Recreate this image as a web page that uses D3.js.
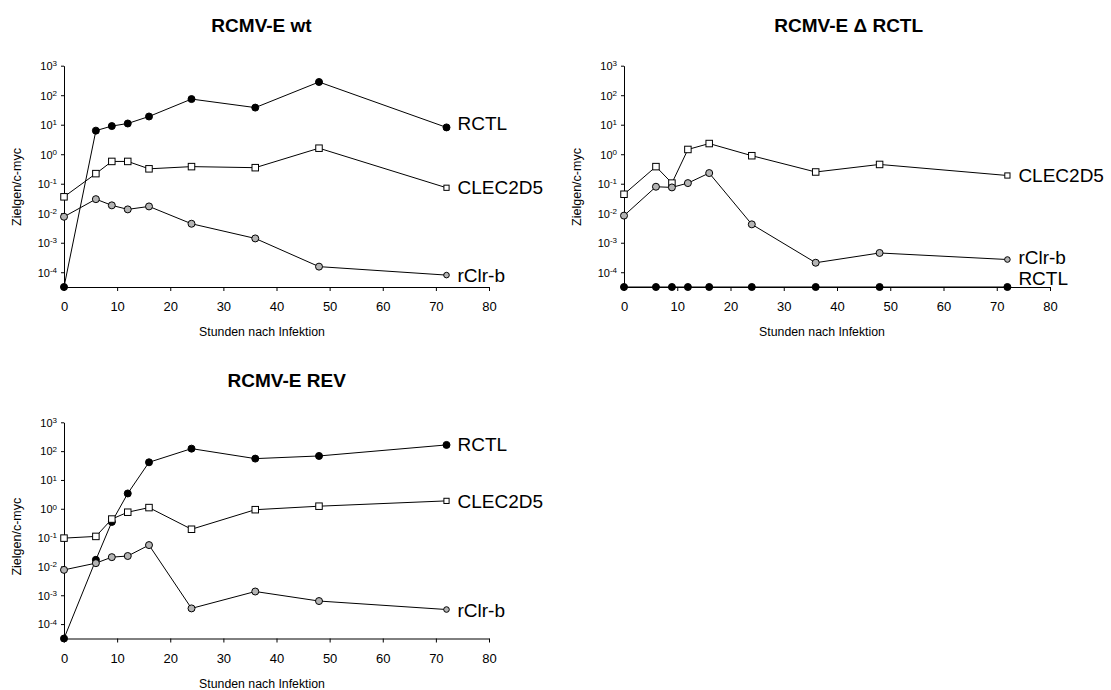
<!DOCTYPE html>
<html>
<head>
<meta charset="utf-8">
<script src="https://cdn.jsdelivr.net/npm/d3@7"></script>
<style>
  html, body { margin: 0; padding: 0; background: #fff; }
  svg { display: block; }
  text { font-family: "Liberation Sans", Arial, sans-serif; fill: #000; }
</style>
</head>
<body>
<svg id="chart" width="1111" height="690"></svg>
<script>
// ---- data ----
const hours = [0, 6, 9, 12, 16, 24, 36, 48, 72];
const seriesNames = ["RCTL", "CLEC2D5", "rClr-b"];
const panelTitles = ["RCMV-E wt", "RCMV-E \u0394 RCTL", "RCMV-E REV"];
const xTickValues = [0, 10, 20, 30, 40, 50, 60, 70, 80];
const yTickExponents = [-4, -3, -2, -1, 0, 1, 2, 3];
const xAxisTitle = "Stunden nach Infektion";
const yAxisTitle = "Zielgen/c-myc";

// 0 = not detected (drawn on the x axis)
const wtRCTL  = [0, 6.3, 9, 11, 19, 74, 38, 280, 8.1];
const wtCLEC  = [0.036, 0.22, 0.57, 0.57, 0.32, 0.38, 0.35, 1.6, 0.073];
const wtClrb  = [0.0076, 0.030, 0.0185, 0.0135, 0.017, 0.0044, 0.0014, 0.000155, 0.00008];

const dRCTL   = [0, 0, 0, 0, 0, 0, 0, 0, 0];
const dCLEC   = [0.044, 0.38, 0.105, 1.45, 2.3, 0.89, 0.25, 0.45, 0.19];
const dClrb   = [0.0083, 0.079, 0.075, 0.105, 0.23, 0.0042, 0.00021, 0.00045, 0.00027];

const revRCTL = [0, 0.017, 0.35, 3.4, 41, 122, 55, 68, 164];
const revCLEC = [0.096, 0.11, 0.44, 0.76, 1.1, 0.195, 0.93, 1.23, 1.88];
const revClrb = [0.0076, 0.013, 0.021, 0.023, 0.055, 0.00035, 0.00135, 0.00063, 0.00032];

const panelData = [
  [wtRCTL, wtCLEC, wtClrb],
  [dRCTL, dCLEC, dClrb],
  [revRCTL, revCLEC, revClrb]
];

// ---- layout (positions/styles) ----
const yMin = Math.pow(10, -4.5), yMax = 1000;
const layouts = [
  { x0: 64,  x1: 489,  yb: 287,   yt: 65.7,  tx: 261.5, ty: 31.7, ayx: 21,  ayy: 187,   axx: 262, labelDy: [-4, 0, 0] },
  { x0: 624, x1: 1050, yb: 287,   yt: 65.7,  tx: 848.7, ty: 31.7, ayx: 581, ayy: 187,   axx: 822, labelDy: [-9, 0, -2] },
  { x0: 64,  x1: 489,  yb: 638.5, yt: 422.3, tx: 286.7, ty: 387,  ayx: 21,  ayy: 536.7, axx: 262, labelDy: [-1, 0, 1] }
];
const markerStyles = [
  { shape: "circle", fill: "#000" },
  { shape: "square", fill: "#fff" },
  { shape: "circle", fill: "#b4b4b4" }
];

const svg = d3.select("#chart");

layouts.forEach((L, pi) => {
  const g = svg.append("g");
  const x = d3.scaleLinear().domain([0, 80]).range([L.x0, L.x1]);
  const y = d3.scaleLog().domain([yMin, yMax]).range([L.yb, L.yt]);
  const yv = v => y(v > 0 ? v : yMin);

  // title
  g.append("text")
    .attr("x", L.tx).attr("y", L.ty)
    .attr("text-anchor", "middle")
    .style("font-size", "19px").style("font-weight", "bold")
    .text(panelTitles[pi]);

  // x axis
  const xa = g.append("g")
    .attr("transform", `translate(0,${L.yb})`)
    .call(d3.axisBottom(x).tickValues(xTickValues).tickSize(4).tickSizeOuter(0).tickPadding(11).tickFormat(d3.format("d")));
  xa.selectAll("text").style("font-size", "13px").style("font-family", "'Liberation Sans', Arial, sans-serif");
  xa.selectAll("path, line").attr("stroke", "#000").attr("stroke-width", 1);

  // y axis
  const ya = g.append("g")
    .attr("transform", `translate(${L.x0},0)`)
    .call(d3.axisLeft(y).tickValues(yTickExponents.map(e => Math.pow(10, e))).tickSize(3).tickSizeOuter(0).tickFormat(""));
  ya.selectAll("path, line").attr("stroke", "#000").attr("stroke-width", 1);
  ya.selectAll(".tick").each(function(d, i) {
    const t = d3.select(this).append("text")
      .attr("x", -7).attr("dy", "0.35em")
      .attr("text-anchor", "end")
      .style("font-size", "11px")
      .style("font-family", "'Liberation Sans', Arial, sans-serif")
      .attr("fill", "#000");
    t.append("tspan").text("10");
    t.append("tspan").attr("dy", "-0.45em").style("font-size", "8px").text(String(yTickExponents[i]));
  });

  // axis titles
  g.append("text")
    .attr("x", L.axx).attr("y", L.yb + 49)
    .attr("text-anchor", "middle")
    .style("font-size", "12.3px")
    .text(xAxisTitle);
  g.append("text")
    .attr("transform", `translate(${L.ayx},${L.ayy}) rotate(-90)`)
    .attr("text-anchor", "middle")
    .style("font-size", "12.5px")
    .text(yAxisTitle);

  // lines
  const line = d3.line().x((d, i) => x(hours[i])).y(d => yv(d));
  panelData[pi].forEach(vals => {
    g.append("path").datum(vals)
      .attr("d", line)
      .attr("fill", "none").attr("stroke", "#000").attr("stroke-width", 1);
  });

  // markers
  panelData[pi].forEach((vals, si) => {
    const st = markerStyles[si];
    const last = vals.length - 1;
    vals.forEach((v, i) => {
      const cx = x(hours[i]), cy = yv(v);
      const k = (i === last && si > 0) ? 0.8 : 1;
      if (st.shape === "circle") {
        g.append("circle").attr("cx", cx).attr("cy", cy).attr("r", 3.5 * k)
          .attr("fill", st.fill).attr("stroke", "#000").attr("stroke-width", 1);
      } else {
        const s = 6.5 * k;
        g.append("rect").attr("x", cx - s / 2).attr("y", cy - s / 2).attr("width", s).attr("height", s)
          .attr("fill", st.fill).attr("stroke", "#000").attr("stroke-width", 1);
      }
    });
    // series label
    g.append("text")
      .attr("x", x(hours[last]) + 11)
      .attr("y", yv(vals[last]) + L.labelDy[si])
      .attr("dy", "0.35em")
      .style("font-size", "19px")
      .text(seriesNames[si]);
  });
});
</script>
</body>
</html>
